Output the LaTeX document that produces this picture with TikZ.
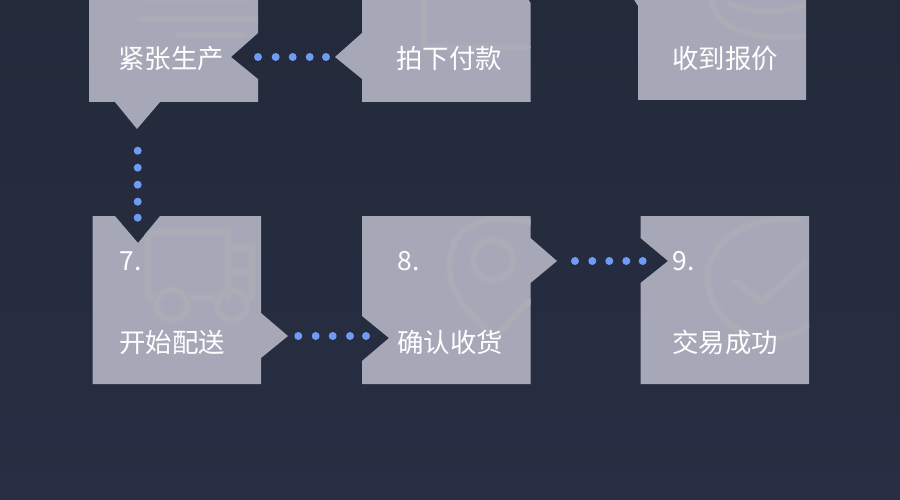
\documentclass[tikz,border=0pt]{standalone}
\usepackage{fontspec}
\newfontfamily\cjk{Noto Sans CJK SC}
\definecolor{bgtop}{HTML}{232A3A}
\definecolor{bgbot}{HTML}{282E43}
\definecolor{panel}{HTML}{A6A8B8}
\definecolor{ghost}{HTML}{ABACB6}
\definecolor{ghostsoft}{HTML}{A8AAB7}
\definecolor{dotblue}{HTML}{6F9BF5}
\tikzset{
  panelshape/.style={fill=panel,draw=none},
  ghostwide/.style={draw=ghostsoft,line width=8pt,line join=round,line cap=round},
  ghostline/.style={draw=ghost,line width=4.5pt,line join=round,line cap=round},
  title/.style={anchor=base west,inner sep=0pt,text=white,font=\cjk\fontsize{26.4pt}{27pt}\selectfont},
  num/.style={anchor=base west,inner sep=0pt,text=white,font=\cjk\fontsize{26.4pt}{27pt}\selectfont},
  bead/.style={circle,fill=dotblue,inner sep=0pt,minimum size=8pt,draw=none}
}
\newcommand{\ghostpath}[1]{\draw[ghostwide] #1; \draw[ghostline] #1;}
\newcommand{\panelA}{(89,-5) -- (258,-5) -- (258,33) -- (231,57) -- (258,79) -- (258,102) -- (160,102) -- (137,129) -- (115,102) -- (89,102) -- cycle}
\newcommand{\panelB}{(362,-5) -- (526,-5) -- (530.5,3) -- (530.5,102) -- (362,102) -- (362,79) -- (335,57) -- (362,33) -- cycle}
\newcommand{\panelC}{(631,-5) -- (806,-5) -- (806,100) -- (638,100) -- (638,6) -- cycle}
\newcommand{\panelD}{(92.5,216) -- (115,216) -- (138,243) -- (160,216) -- (261,216) -- (261,313) -- (288,336) -- (261,358) -- (261,384) -- (92.5,384) -- cycle}
\newcommand{\panelE}{(362,216) -- (530.5,216) -- (530.5,238) -- (557,261) -- (530.5,283) -- (530.5,384) -- (362,384) -- (362,361) -- (389,338) -- (362,316) -- cycle}
\newcommand{\panelF}{(640.5,216) -- (809,216) -- (809,384) -- (640.5,384) -- (640.5,283) -- (668,261) -- (640.5,238) -- cycle}
\begin{document}
\begin{tikzpicture}[x=1pt,y=-1pt]
\useasboundingbox (0,0) rectangle (900,500);
\clip (0,0) rectangle (900,500);
\shade[top color=bgtop,bottom color=bgbot] (0,0) rectangle (900,500);
% panels
\fill[panelshape] \panelA;
\fill[panelshape] \panelB;
\fill[panelshape] \panelC;
\fill[panelshape] \panelD;
\fill[panelshape] \panelE;
\fill[panelshape] \panelF;
% faint icons, each kept inside its panel
\begin{scope}
\clip \panelA;
\ghostpath{(140,19) -- (255,19) (178,35) -- (243,35) (140,-2) -- (250,-2)}
\end{scope}
\begin{scope}
\clip \panelB;
\ghostpath{(424,-5) -- (424,47) -- (527,47)}
\end{scope}
\begin{scope}
\clip \panelC;
\ghostpath{(803,5) .. controls (780,15) and (745,12) .. (730,4)}
\ghostpath{(712,0) .. controls (712,25) and (750,42) .. (803,36)}
\end{scope}
\begin{scope}
\clip \panelD;
\ghostpath{(152,232) -- (228,232) -- (228,298) (152,232) -- (148,236) -- (148,297) -- (155,298) (190,298) -- (214,298)}
\ghostpath{(230,248) -- (252,248) -- (252,296) -- (247,298) (230,272) -- (250,272)}
\ghostpath{(172,305) circle[radius=15]}
\ghostpath{(232,305) circle[radius=15]}
\end{scope}
\begin{scope}
\clip \panelE;
\ghostpath{(528,222) .. controls (505,216) and (470,216) .. (456,240) .. controls (440,270) and (456,300) .. (472,314) -- (494,338) -- (528,302)}
\ghostpath{(493,260) circle[radius=20]}
\end{scope}
\begin{scope}
\clip \panelF;
\ghostpath{(800,219) .. controls (760,216) and (720,230) .. (708,268) .. controls (703,310) and (740,345) .. (780,338) .. controls (790,336) and (800,332) .. (806,326)}
\ghostpath{(735,281) -- (762,302) -- (805,262)}
\end{scope}
% beads
\foreach \x/\y/\n in {258/57/a1,275.7/57/a2,292.7/57/a3,309.7/57/a4,326/57/a5,
  137.7/150.7/b1,137.7/167.7/b2,137.7/184.7/b3,137.7/201.7/b4,137.7/217.7/b5,
  298.3/336/c1,315.7/336/c2,332.7/336/c3,350/336/c4,366/336/c5,
  575/261/d1,592.3/261/d2,609.3/261/d3,626.3/261/d4,642.7/261/d5}
  \node[bead] (\n) at (\x,\y) {};
% labels
\node[title] (t1) at (118,69) {紧张生产};
\node[title] (t2) at (396,69) {拍下付款};
\node[title] (t3) at (672,69) {收到报价};
\node[title] (t4) at (119,352) {开始配送};
\node[title] (t5) at (397,352) {确认收货};
\node[title] (t6) at (672,352) {交易成功};
\node[num] (n7) at (119.5,270.5) {7.};
\node[num] (n8) at (397.5,270.5) {8.};
\node[num] (n9) at (672.5,270.5) {9.};
\end{tikzpicture}
\end{document}
